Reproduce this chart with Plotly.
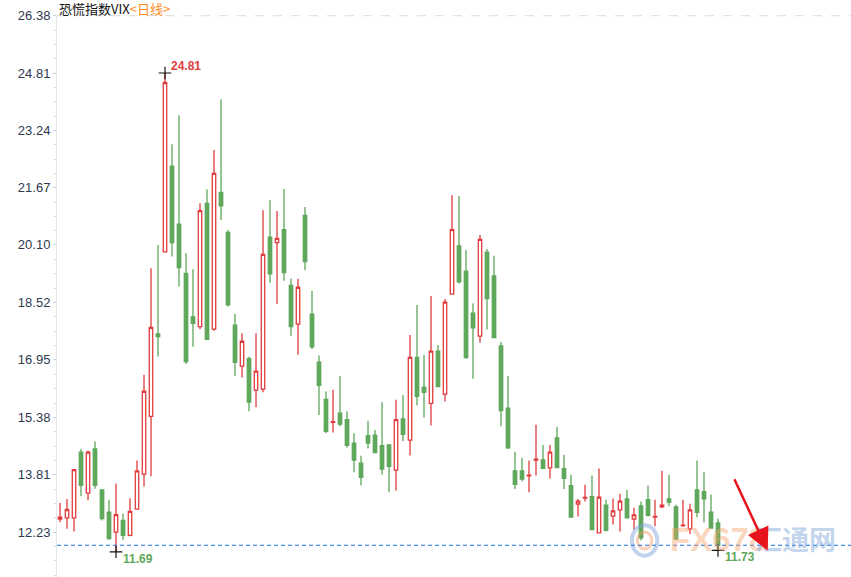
import plotly.graph_objects as go

# ---- data ----
opens = [12.59, 12.62, 12.62, 14.42, 13.30, 14.51, 13.39, 12.78, 12.23, 12.55,
         12.14, 12.86, 13.82, 15.40, 17.66, 19.91, 22.26, 20.67, 19.32, 18.13,
         17.86, 21.24, 17.79, 21.54, 20.44, 17.90, 16.78, 16.98, 16.12, 16.15,
         20.31, 20.16, 20.52, 18.99, 17.93, 20.91, 18.20, 16.89, 15.87, 15.24,
         15.49, 15.31, 14.67, 14.12, 14.87, 14.89, 14.60, 14.62, 13.93, 15.33,
         14.75, 17.02, 16.20, 15.76, 17.19, 16.01, 18.75, 20.07, 19.38, 18.23,
         17.60, 19.90, 19.25, 17.33, 15.63, 13.91, 13.91, 13.77, 14.20, 14.21,
         13.99, 14.81, 13.97, 13.50, 13.00, 13.16, 13.20, 12.21, 12.97, 12.67,
         12.84, 13.14, 12.59, 12.95, 13.12, 12.64, 12.92, 13.14, 12.92, 12.41,
         12.32, 13.39, 13.34, 12.78, 12.48]
highs = [13.03, 13.14, 13.96, 14.51, 14.46, 14.71, 13.40, 13.12, 13.56, 12.74,
         13.16, 14.19, 16.54, 19.46, 20.10, 24.81, 22.86, 23.65, 19.87, 19.43,
         21.24, 21.62, 22.70, 24.09, 20.51, 18.21, 17.68, 17.04, 17.68, 21.05,
         21.33, 21.03, 21.63, 19.18, 19.17, 21.14, 18.84, 17.07, 16.08, 16.13,
         16.51, 15.54, 14.94, 14.32, 15.28, 15.03, 15.79, 14.64, 15.86, 15.99,
         17.63, 18.45, 17.09, 18.70, 17.36, 18.62, 21.46, 21.44, 19.96, 18.50,
         20.37, 19.99, 19.80, 17.44, 16.51, 14.43, 14.27, 14.19, 15.17, 14.62,
         14.62, 15.11, 14.35, 13.80, 13.14, 13.53, 13.78, 13.97, 13.12, 13.15,
         13.28, 13.39, 12.90, 13.07, 13.50, 13.12, 13.91, 13.80, 12.98, 13.12,
         13.01, 14.19, 13.87, 13.26, 12.60]
lows = [12.50, 12.32, 12.25, 13.21, 13.10, 13.42, 12.55, 12.02, 11.69, 12.02,
        12.12, 12.85, 13.48, 13.76, 17.04, 19.89, 19.78, 18.96, 16.84, 17.31,
        17.79, 17.50, 17.75, 20.78, 18.41, 16.51, 16.47, 15.54, 15.65, 16.06,
        19.06, 18.48, 19.12, 17.61, 17.09, 19.41, 17.25, 15.44, 14.94, 14.96,
        15.13, 14.55, 13.87, 13.51, 14.52, 14.40, 13.81, 13.32, 13.37, 14.72,
        14.33, 15.70, 15.37, 15.15, 16.21, 15.81, 18.74, 19.04, 16.98, 16.43,
        17.42, 17.78, 17.55, 15.13, 14.51, 13.41, 13.62, 13.32, 13.78, 13.97,
        13.70, 13.99, 13.41, 12.63, 12.66, 13.07, 12.28, 12.20, 12.25, 12.44,
        12.25, 12.61, 12.30, 12.00, 12.66, 12.39, 12.89, 12.94, 12.03, 12.37,
        12.18, 12.64, 12.50, 12.33, 11.73]
closes = [12.64, 12.85, 13.94, 13.51, 14.42, 13.51, 12.60, 12.05, 12.71, 12.14,
          12.80, 13.91, 16.09, 17.84, 17.59, 24.55, 20.16, 19.48, 16.90, 17.95,
          21.04, 17.51, 22.06, 21.17, 18.46, 16.88, 17.46, 15.79, 16.64, 19.84,
          19.31, 20.28, 19.34, 17.86, 18.94, 19.64, 17.31, 16.25, 14.99, 15.26,
          15.19, 14.61, 14.20, 13.73, 14.67, 14.41, 13.96, 14.03, 15.31, 14.91,
          17.02, 15.95, 16.06, 17.19, 16.22, 18.53, 20.52, 19.09, 17.01, 17.83,
          20.25, 18.63, 17.56, 15.56, 14.54, 13.54, 13.68, 13.79, 14.23, 13.98,
          14.42, 14.00, 13.70, 12.64, 13.08, 13.18, 12.30, 13.19, 12.28, 12.81,
          13.08, 12.62, 12.70, 12.07, 12.69, 12.66, 12.97, 13.05, 12.04, 12.42,
          12.84, 12.77, 13.14, 12.34, 11.87]

ytick_labels = ["26.38", "24.81", "23.24", "21.67", "20.10",
                "18.52", "16.95", "15.38", "13.81", "12.23"]

title_main = "恐慌指数VIX"
title_sub = "<日线>"

RED = "#e03c3e"
GREEN = "#5ea75b"

xs = list(range(len(opens)))
tickvals = [float(t) for t in ytick_labels]
step = (tickvals[0] - tickvals[-1]) / (len(tickvals) - 1)
minor_vals = []
v = tickvals[-1] - step
while v < tickvals[0] + 0.01:
    for k in range(1, 4):
        minor_vals.append(v + k * step / 4)
    v += step

fig = go.Figure()
fig.add_trace(go.Candlestick(
    x=xs, open=opens, high=highs, low=lows, close=closes,
    increasing=dict(line=dict(color=RED, width=1.3), fillcolor="#ffffff"),
    decreasing=dict(line=dict(color=GREEN, width=1.3), fillcolor=GREEN),
    whiskerwidth=0, showlegend=False, hoverinfo="skip",
))

# extreme markers
hi_i = max(xs, key=lambda i: highs[i])
lo_i = min(xs[:20], key=lambda i: lows[i])
last_i = xs[-1]
fig.add_trace(go.Scatter(
    x=[hi_i, lo_i, last_i], y=[highs[hi_i], lows[lo_i], lows[last_i]],
    mode="markers",
    marker=dict(symbol="cross-thin", size=9, line=dict(color="#111111", width=1.2)),
    showlegend=False, hoverinfo="skip",
))

fig.add_annotation(x=hi_i, y=highs[hi_i], text="<b>%.2f</b>" % highs[hi_i],
                   showarrow=False, xanchor="left", yanchor="middle",
                   xshift=4, yshift=7,
                   font=dict(family="Liberation Sans, Arial", size=12, color=RED))
fig.add_annotation(x=lo_i, y=lows[lo_i], text="<b>%.2f</b>" % lows[lo_i],
                   showarrow=False, xanchor="left", yanchor="middle",
                   xshift=5, yshift=-7,
                   font=dict(family="Liberation Sans, Arial", size=12, color=GREEN))
fig.add_annotation(x=last_i, y=lows[last_i], text="<b>%.2f</b>" % lows[last_i],
                   showarrow=False, xanchor="left", yanchor="middle",
                   xshift=5, yshift=-7,
                   font=dict(family="Liberation Sans, Arial", size=12, color=GREEN))

# title
fig.add_annotation(xref="paper", yref="paper", x=0, y=1, xanchor="left", yanchor="middle",
                   yshift=7, xshift=0, showarrow=False,
                   text=title_main + "<span style='color:#ff8c1a'>" +
                        title_sub.replace("<", "&lt;").replace(">", "&gt;") + "</span>",
                   font=dict(family="Noto Sans CJK SC", size=13, color="#111111"))

# watermark
fig.add_shape(type="circle", xref="paper", yref="paper",
              x0=0.724, x1=0.756, y0=0.038, y1=0.092,
              line=dict(color="rgba(120,160,215,0.45)", width=4))
fig.add_shape(type="circle", xref="paper", yref="paper",
              x0=0.731, x1=0.749, y0=0.05, y1=0.08,
              line=dict(color="rgba(245,150,100,0.45)", width=3))
fig.add_annotation(xref="paper", yref="paper", x=0.770, y=0.066, xanchor="left",
                   yanchor="middle", showarrow=False, text="<b>FX678</b>",
                   font=dict(family="Liberation Sans Narrow, Liberation Sans", size=33,
                             color="rgba(250,165,110,0.45)"))
fig.add_annotation(xref="paper", yref="paper", x=0.876, y=0.068, xanchor="left",
                   yanchor="middle", showarrow=False, text="<b>汇通网</b>",
                   font=dict(family="Noto Sans CJK SC", size=27, color="rgba(120,160,215,0.45)"))

# red arrow
fig.add_annotation(x=101.1, y=11.72, ax=-34, ay=-73, showarrow=True,
                   arrowhead=2, arrowsize=1.8, arrowwidth=2.5, arrowcolor="#e8141c",
                   text="")

# top dashed line and last-close line
fig.add_shape(type="line", xref="paper", yref="y", x0=0, x1=1,
              y0=tickvals[0], y1=tickvals[0],
              line=dict(color="#dcdcdc", width=1, dash="dash"))
fig.add_shape(type="line", xref="paper", yref="y", x0=0, x1=1,
              y0=closes[-1], y1=closes[-1],
              line=dict(color="#1a6fe0", width=1, dash="4px,3px"))

fig.update_layout(
    width=851, height=577,
    margin=dict(l=57, r=0, t=15, b=0),
    paper_bgcolor="#ffffff", plot_bgcolor="#ffffff",
    xaxis=dict(range=[-0.43, 113], visible=False, rangeslider=dict(visible=False),
               showgrid=False, zeroline=False),
    yaxis=dict(range=[11.0, 26.40], tickvals=tickvals, ticktext=ytick_labels,
               showgrid=False, zeroline=False, showline=True, linecolor="#dfe6ee",
               linewidth=1, ticks="outside", ticklen=3, tickcolor="#c9d2dc",
               tickfont=dict(family="Liberation Sans, Arial", size=13, color="#2f3a4f"),
               minor=dict(tickvals=minor_vals, ticks="outside", ticklen=2,
                          tickcolor="#d5dce4")),
    showlegend=False,
)

fig.write_html("out.html", config={"displayModeBar": False},
               post_script="document.body.style.margin='0';")
